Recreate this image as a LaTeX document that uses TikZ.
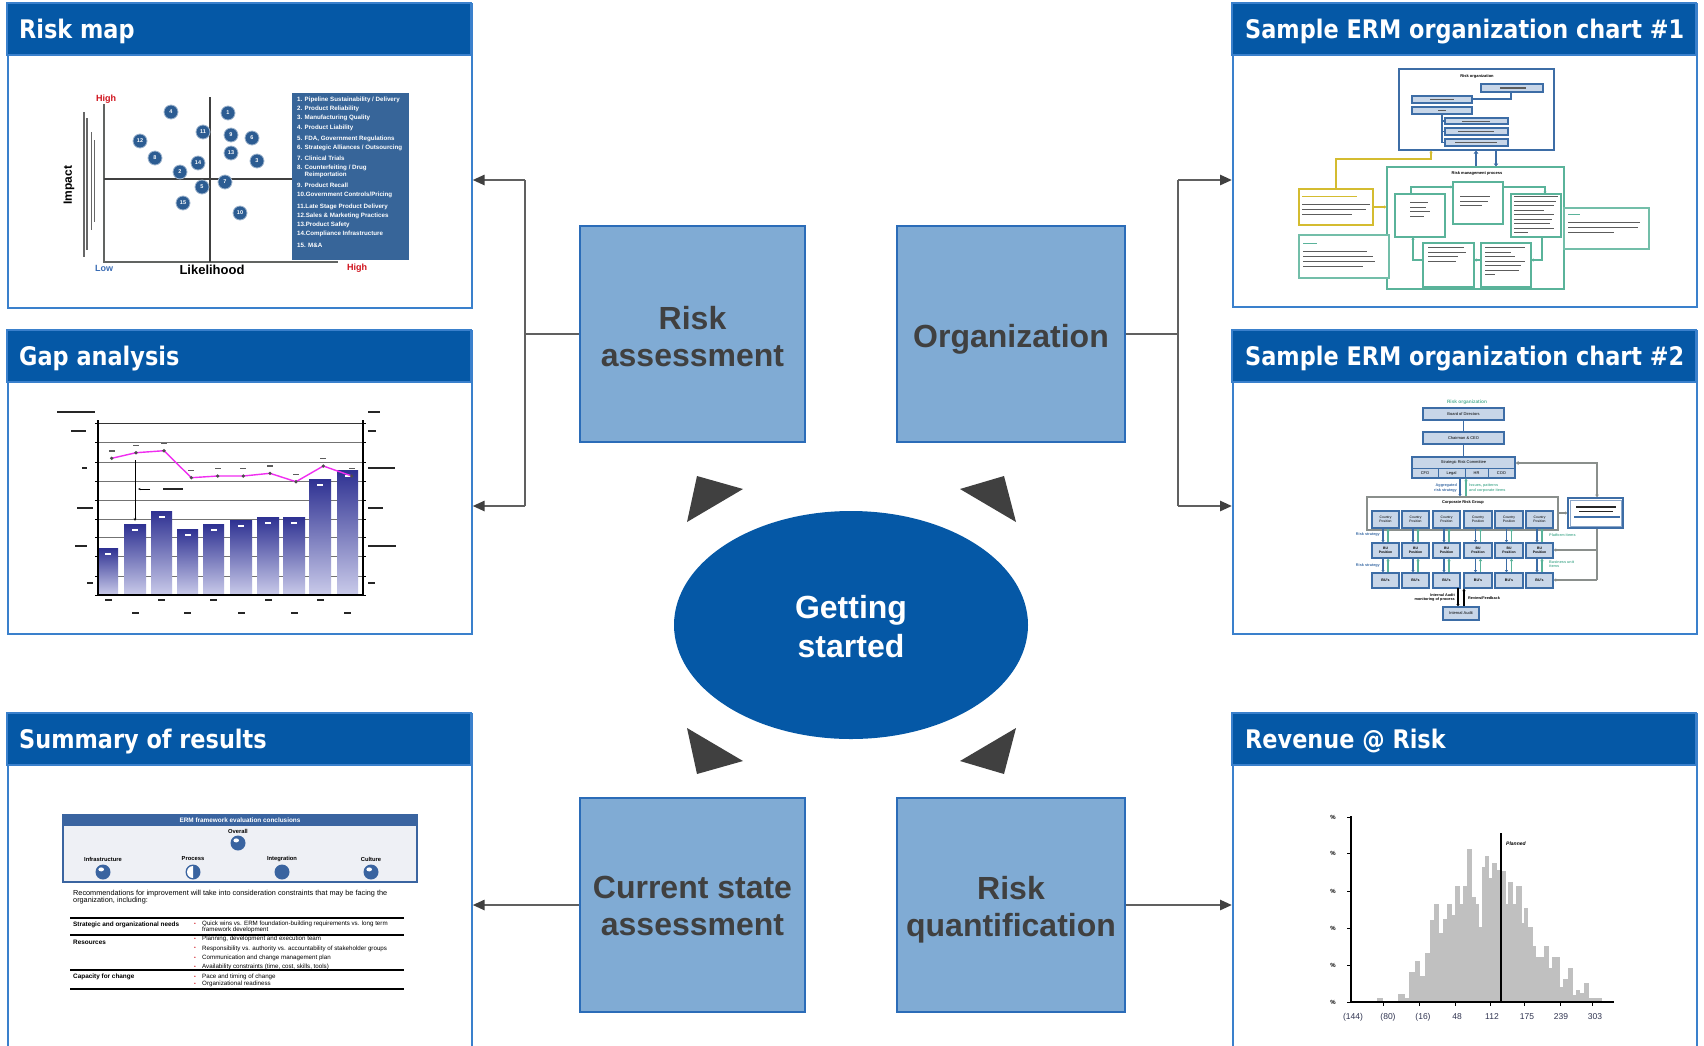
\documentclass[tikz,border=0pt]{standalone}
\usepackage{fontspec}
\setmainfont{Liberation Sans}
\newfontfamily\ttlfont[FakeStretch=0.875]{DejaVu Sans}
\usetikzlibrary{arrows.meta,shapes.geometric,calc}
\definecolor{hdrblue}{HTML}{0558A6}
\definecolor{pborder}{HTML}{3A80CC}
\definecolor{boxfill}{HTML}{80ABD4}
\definecolor{boxline}{HTML}{2B6CB8}
\definecolor{dgray}{HTML}{404040}
\definecolor{lgray}{HTML}{606060}
\definecolor{mapblue}{HTML}{376599}
\definecolor{dotblue}{HTML}{2C5C92}
\definecolor{navyb}{HTML}{2E3192}
\definecolor{lavb}{HTML}{CACBEA}
\definecolor{pinkl}{HTML}{F02EF0}
\definecolor{orgblue}{HTML}{3D6DA6}
\definecolor{orgfill}{HTML}{C8D6E8}
\definecolor{tealg}{HTML}{5AB39A}
\definecolor{yelg}{HTML}{D4BC30}
\definecolor{histg}{HTML}{C0C0C0}
\definecolor{hired}{HTML}{D0101A}
\definecolor{lowblue}{HTML}{3A6CB4}
\definecolor{sumblue}{HTML}{3A64A0}
\definecolor{sumbg}{HTML}{EEF0F5}
\definecolor{inkc}{HTML}{262626}
\definecolor{grayc}{HTML}{8A8F8C}
\definecolor{axlab}{HTML}{2F3350}
\newcommand\txb[4][inkc]{\fill[#1] (#2,#3) rectangle ++(#4,1.7);}
\newcommand\txl[3]{\fill[inkc!75] (#1,#2) rectangle ++(#3,1.3);}
\begin{document}
\begin{tikzpicture}[x=1pt,y=-1pt,
  panel/.style={draw=pborder, line width=1.6pt, fill=white, anchor=north west, inner sep=0pt, minimum width=464pt},
  ttl/.style={font=\ttlfont\bfseries\fontsize{25.6}{30}\selectfont, text=white, anchor=base west, inner sep=0pt},
  cbox/.style={draw=boxline, line width=1.4pt, fill=boxfill, inner sep=0pt},
  ctext/.style={align=center, text=dgray, font=\bfseries\fontsize{32}{37}\selectfont, inner sep=0pt},
  conn/.style={draw=lgray, line width=2.6pt},
  arr/.style={conn, -{Triangle[length=12pt,width=10pt,color=dgray]}},
  tri/.style={fill=dgray},
  rdot/.style={circle, fill=dotblue, draw=dotblue!45!white, line width=0.8pt, minimum size=14pt, inner sep=0pt, text=white, font=\bfseries\fontsize{5.5}{6}\selectfont},
  leg/.style={anchor=west, inner sep=0pt, text=white, font=\bfseries\fontsize{6.2}{7}\selectfont},
  tinyt/.style={inner sep=0pt, font=\fontsize{4}{4.6}\selectfont, align=center},
  tinyb/.style={inner sep=0pt, font=\bfseries\fontsize{4}{4.6}\selectfont, align=center},
  obox/.style={draw=orgblue, fill=orgfill, line width=1.1pt},
  tbox/.style={draw=tealg, fill=white, line width=1.2pt},
  oarr/.style={-{Triangle[length=2.5pt,width=3pt]}},
  stxt/.style={anchor=west, inner sep=0pt, font=\fontsize{6.2}{7}\selectfont},
  sbold/.style={anchor=west, inner sep=0pt, font=\bfseries\fontsize{6.4}{7}\selectfont}
]
\useasboundingbox (0,0) rectangle (1704,1045);
\fill[white] (0,0) rectangle (1704,1045);

% ---------- panels ----------
\node[panel, minimum height=304pt] (riskmap) at (7,3) {};
\node[panel, minimum height=303pt] (gap) at (7,330) {};
\node[panel, minimum height=340pt] (summary) at (7,713) {};
\node[panel, minimum height=303pt] (erm1) at (1232,3) {};
\node[panel, minimum height=303pt] (erm2) at (1232,330) {};
\node[panel, minimum height=340pt] (rev) at (1232,713) {};
\foreach \px/\py in {7/3, 7/330, 7/713, 1232/3, 1232/330, 1232/713}
  {\filldraw[fill=hdrblue, draw=pborder, line width=1.6pt] (\px,\py) rectangle ++(464,52);}
\node[ttl] (t1) at (19,38.5) {Risk map};
\node[ttl] (t2) at (19,365.5) {Gap analysis};
\node[ttl] (t3) at (19,748.5) {Summary of results};
\node[ttl] (t4) at (1245,38.5) {Sample ERM organization chart \#1};
\node[ttl] (t5) at (1245,365.5) {Sample ERM organization chart \#2};
\node[ttl] (t6) at (1245,748.5) {Revenue @ Risk};

% ---------- centre ----------
\node[cbox, minimum width=225pt, minimum height=216pt] (ra) at (692.5,334) {};
\node[ctext] (rat) at (692.5,336.2) {Risk\\assessment};
\node[cbox, minimum width=228pt, minimum height=216pt] (org) at (1011,334) {};
\node[ctext] (orgt) at (1011,339.3) {Organization};
\node[cbox, minimum width=225pt, minimum height=214pt] (cs) at (692.5,905) {};
\node[ctext] (cst) at (692.5,906) {Current state\\assessment};
\node[cbox, minimum width=228pt, minimum height=214pt] (rq) at (1011,905) {};
\node[ctext] (rqt) at (1011,909.3) {Risk\\quantification};
\node[ellipse, fill=hdrblue, minimum width=354pt, minimum height=228pt, inner sep=0pt] (gs) at (851,625) {};
\node[align=center, text=white, inner sep=0pt, font=\bfseries\fontsize{32}{39}\selectfont] (gst) at (851,627) {Getting\\started};
\fill[tri] (697,476) -- (743,489) -- (687,522) -- cycle;
\fill[tri] (1004,476) -- (960,489) -- (1016,522) -- cycle;
\fill[tri] (687,728) -- (743,761) -- (697,774) -- cycle;
\fill[tri] (1016,728) -- (960,761) -- (1004,774) -- cycle;

% ---------- connectors ----------
\coordinate (lj) at (525,334);
\coordinate (lt) at (525,180);
\coordinate (lb) at (525,506);
\coordinate (rj) at (1178,334);
\coordinate (rt) at (1178,180);
\coordinate (rb) at (1178,506);
\draw[conn] (ra.west) -- (lj);
\draw[conn] (lt) -- (lb);
\draw[arr] (lt) -- (riskmap.east |- lt);
\draw[arr] (lb) -- (gap.east |- lb);
\draw[conn] (org.east) -- (rj);
\draw[conn] (rt) -- (rb);
\draw[arr] (rt) -- (erm1.west |- rt);
\draw[arr] (rb) -- (erm2.west |- rb);
\draw[arr] (cs.west) -- (summary.east |- cs.west);
\draw[arr] (rq.east) -- (rev.west |- rq.east);

% ---------- risk map ----------
\draw[grayc!70!black, line width=1.2pt] (104,104) -- (104,262) -- (338,262);
\draw[black!75, line width=1.1pt] (210,97) -- (210,262);
\draw[black!75, line width=1.1pt] (104,179) -- (292,179);
\fill[mapblue] (292,93) rectangle (409,260);
\foreach \py/\t in {100/{1. Pipeline Sustainability / Delivery}, 109/{2. Product Reliability}, 118/{3. Manufacturing Quality}, 128/{4. Product Liability}, 139/{5. FDA, Government Regulations}, 148/{6. Strategic Alliances / Outsourcing}, 158/{7. Clinical Trials}, 168/{8. Counterfeiting / Drug}, 175/{\phantom{8. }Reimportation}, 185/{9. Product Recall}, 195/{10.Government Controls/Pricing}, 207/{11.Late Stage Product Delivery}, 216/{12.Sales \& Marketing Practices}, 225/{13.Product Safety}, 234/{14.Compliance Infrastructure}, 245/{15. M\&A}}
  {\node[leg] at (297,\py) {\t};}
\foreach \n/\px/\py in {4/171/112, 1/228/113, 11/203/132, 9/231/135, 6/252/138, 12/140/141, 13/231/153, 8/155/158, 14/198/163, 3/257/161, 2/180/172, 7/225/182, 5/202/187, 15/183/203, 10/240/213}
  {\node[rdot] (d\n) at (\px,\py) {\n};}
\node[inner sep=0pt, text=hired, font=\bfseries\fontsize{9}{10}\selectfont] (hi1) at (106,99) {High};
\node[inner sep=0pt, text=lowblue, font=\bfseries\fontsize{9}{10}\selectfont] (lo1) at (104,268) {Low};
\node[inner sep=0pt, font=\bfseries\fontsize{13}{14}\selectfont] (lik) at (212,270) {Likelihood};
\node[inner sep=0pt, text=hired, font=\bfseries\fontsize{9}{10}\selectfont] (hi2) at (357,268) {High};
\node[inner sep=0pt, rotate=90, font=\bfseries\fontsize{12}{13}\selectfont] (imp) at (69,185) {Impact};
\fill[inkc!70] (83,112) rectangle (84.5,257);
\fill[inkc!70] (86,118) rectangle (87.5,250);
\fill[inkc!70] (90.5,132) rectangle (92,230);
\fill[inkc!70] (93.5,140) rectangle (95,222);

% ---------- gap analysis ----------
\foreach \gy in {442.7,462.7,481.7,500,519.3,537.7,556.7,576}
  {\draw[black!55, line width=0.7pt] (98,\gy) -- (363,\gy);}
\draw[black!80, line width=1.1pt] (98,423.3) -- (363,423.3);
\foreach \a/\b/\t in {98/118/548, 124/146/524, 151/172/511, 177/198/529, 203/224/524, 230/252/520, 257/279/517, 283/305/517, 309/331/479, 337/358/470}
  {\shade[top color=navyb, bottom color=lavb] (\a,\t) rectangle (\b,595);
   \fill[white] ({(\a+\b)/2-3},{\t+5}) rectangle ++(6,2);}
\draw[black, line width=1.4pt] (98,420) -- (98,595) -- (363,595) -- (363,420);
\foreach \gy in {423.3,442.7,462.7,481.7,500,519.3,537.7,556.7,576,595}
  {\draw[black, line width=0.8pt] (95,\gy) -- (98,\gy);
   \draw[black, line width=0.8pt] (363,\gy) -- (366,\gy);}
\draw[pinkl, line width=1.4pt] (111.7,458.3) -- (136,452.7) -- (164,450.7) -- (191.3,477.7) -- (217.7,476) -- (243.3,476) -- (270,473.3) -- (296,481.7) -- (323.3,466) -- (351.7,476);
\foreach \px/\py in {111.7/458.3, 136/452.7, 164/450.7, 191.3/477.7, 217.7/476, 243.3/476, 270/473.3, 296/481.7, 323.3/466, 351.7/476}
  {\fill[black!70] (\px,\py) circle (1.8);
   \txl{\px-3}{\py-8}{6}}
\draw[black, line width=0.5pt, -{Stealth[length=3pt,width=2.5pt]}] (135,460) -- (135,521);
\draw[black, line width=0.5pt, -{Stealth[length=2.5pt,width=2pt]}] (150,489) -- (138,489);
\txb{163}{488}{20}
\txb{57}{411}{38}
\txb{368}{411}{12}
\foreach \px/\py/\w in {71/430/15, 82/467/5, 77/507/16, 75/545/12, 87/582/6, 368/430/8, 368/467/27, 368/507/15, 368/545/28, 368/582/7}
  {\txb{\px}{\py}{\w}}
\foreach \px in {108,161.5,213.5,268,320}
  {\txb{\px-3.5}{599}{7}}
\foreach \px in {135,187.5,241,294,347.5}
  {\txb{\px-3.5}{612}{7}}

% ---------- summary of results ----------
\fill[sumbg] (63,815) rectangle (417,882);
\fill[sumblue] (63,815) rectangle (417,826);
\draw[sumblue, line width=1.3pt] (63,815) rectangle (417,882);
\node[inner sep=0pt, text=white, font=\bfseries\fontsize{6.4}{7}\selectfont] (erh) at (240,820.5) {ERM framework evaluation conclusions};
\node[inner sep=0pt, font=\bfseries\fontsize{5.8}{6.5}\selectfont] (ovl) at (238,831) {Overall};
\foreach \px/\t in {103/Infrastructure, 193/Process, 282/Integration, 371/Culture}
  {\node[inner sep=0pt, font=\bfseries\fontsize{5.8}{6.5}\selectfont] at (\px,859) {\t};}
\foreach \px/\py in {238/843, 103/872, 371/872}
  {\fill[sumblue] (\px,\py) circle (7.5);
   \fill[white] (\px-1.8,\py-2.6) ellipse (2.8 and 2);}
\fill[sumblue] (282,872) circle (7.5);
\fill[sumblue] (193,872) circle (7.5);
\fill[white] (193,872) -- ++(0,-6) arc[start angle=270, end angle=90, radius=6] -- cycle;
\node[anchor=north west, inner sep=0pt, align=left, font=\fontsize{7.3}{7.9}\selectfont] (rec) at (73,889.5) {Recommendations for improvement will take into consideration constraints that may be facing the\\organization, including:};
\draw[black, line width=1.5pt] (70,918) -- (404,918);
\draw[black, line width=1.2pt] (70,935) -- (404,935);
\draw[black, line width=1.2pt] (70,970) -- (404,970);
\draw[black, line width=1.5pt] (70,989) -- (404,989);
\node[sbold] (r1) at (73,925) {Strategic and organizational needs};
\node[sbold] (r2) at (73,942) {Resources};
\node[sbold] (r3) at (73,977) {Capacity for change};
\foreach \py/\t in {924/{Quick wins vs. ERM foundation-building requirements vs. long term}, 939/{Planning, development and execution team}, 948.5/{Responsibility vs. authority vs. accountability of stakeholder groups}, 958/{Communication and change management plan}, 967/{Availability constraints (time, cost, skills, tools)}, 977/{Pace and timing of change}, 984/{Organizational readiness}}
  {\node[stxt] at (202,\py) {\t};
   \node[inner sep=0pt, text=hired, font=\fontsize{5}{5}\selectfont] at (195,\py) {\textbullet};}
\node[stxt] (r1b) at (202,930) {framework development};

% ---------- org chart 1 ----------
\draw[orgblue, line width=1.4pt] (1399,69) rectangle (1554,150);
\node[tinyb] (o1t) at (1477,76) {Risk organization};
\draw[orgblue, line width=1.1pt] (1511,92) -- (1511,99) -- (1472,99);
\draw[orgblue, line width=1.1pt] (1442,114) -- (1442,142.5) -- (1445,142.5);
\draw[orgblue, line width=1.1pt] (1442,121) -- (1445,121);
\draw[orgblue, line width=1.1pt] (1442,131.5) -- (1445,131.5);
\foreach \a/\b/\c/\d in {1481/84/1543/92, 1412/96/1472/103, 1412/107/1472/114, 1445/118/1508/124, 1445/128/1508/135, 1445/139/1508/146}
  {\draw[obox] (\a,\b) rectangle (\c,\d);}
\txl{1500}{87.4}{26}
\txl{1430}{98.9}{24}
\txl{1438}{110}{8}
\txl{1462}{120.5}{28}
\txl{1458}{130.9}{36}
\txl{1455}{141.9}{42}
\draw[orgblue, line width=2pt, -{Triangle[length=3pt,width=4.5pt]}] (1476,167) -- (1476,150.5);
\draw[orgblue, line width=2pt, -{Triangle[length=3pt,width=4.5pt]}] (1496,150) -- (1496,166.5);
\draw[tealg, line width=1.3pt] (1387,167) rectangle (1564,289);
\node[tinyb] (o1p) at (1477,173.5) {Risk management process};
\draw[tealg, line width=1.2pt, oarr] (1411,194) -- (1411,187) -- (1453,187);
\draw[tealg, line width=1.2pt, oarr] (1503,187) -- (1545,187) -- (1545,194);
\draw[tealg, line width=1.2pt, oarr] (1542,237) -- (1542,260) -- (1531,260);
\draw[tealg, line width=1.2pt, oarr] (1481,260) -- (1474,260);
\draw[tealg, line width=1.2pt, oarr] (1423,260) -- (1413,260) -- (1413,237);
\foreach \a/\b/\c/\d in {1395/194/1445/237, 1453/182/1503/224, 1511/194/1561/237, 1423/243/1474/287, 1481/243/1531/287}
  {\draw[tbox] (\a,\b) rectangle (\c,\d);}
\foreach \py/\w in {202/18, 206.5/16, 211/20, 215.5/14} {\txl{1410}{\py}{\w}}
\foreach \py/\w in {196/30, 200.5/28, 205/22} {\txl{1460}{\py}{\w}}
\foreach \py/\w in {196/44, 200.5/42, 205/40, 209.5/30, 214/40, 218.5/38, 223/36, 227.5/40, 232/14} {\txl{1514}{\py}{\w}}
\foreach \py/\w in {247/36, 251.5/38, 256/30, 260.5/28} {\txl{1428}{\py}{\w}}
\foreach \py/\w in {247/40, 251.5/26, 256/30, 260.5/40, 265/36, 269.5/34, 274/10} {\txl{1485}{\py}{\w}}
\draw[yelg, line width=1.3pt, oarr] (1336,189) -- (1336,159) -- (1431,159) -- (1431,150.5);
\draw[yelg, line width=1.3pt, oarr] (1373,207) -- (1386.5,207);
\draw[yelg, line width=1.3pt, fill=white] (1299,189) rectangle (1373,225);
\fill[yelg] (1302,196) rectangle ++(55,1.3);
\foreach \py/\w in {203.5/68, 208.5/64, 213.5/50} {\txl{1302}{\py}{\w}}
\draw[tealg!85, line width=1.4pt, fill=white] (1299,235) rectangle (1389,278);
\fill[tealg] (1303,243) rectangle ++(14,1.3);
\foreach \py/\w in {250.5/64, 255.5/70, 260.5/72, 265.5/60} {\txl{1303}{\py}{\w}}
\draw[tealg!85, line width=1.4pt, fill=white] (1564,208) rectangle (1649,249);
\fill[tealg] (1568,214) rectangle ++(12,1.3);
\foreach \py/\w in {221.5/72, 226.5/70, 231.5/46} {\txl{1568}{\py}{\w}}

% ---------- org chart 2 ----------
\node[inner sep=0pt, text=tealg, font=\bfseries\fontsize{4.8}{5.5}\selectfont] (o2t) at (1467,402) {Risk organization};
\draw[orgblue, line width=1.4pt] (1463.5,420) -- (1463.5,457);
\draw[obox] (1423,408) rectangle (1504,420);
\node[tinyt] (bod) at (1463.5,414) {Board of Directors};
\draw[obox] (1423,432) rectangle (1504,444);
\node[tinyt] (ceo) at (1463.5,438) {Chairman \& CEO};
\draw[obox] (1412,457) rectangle (1515,478);
\draw[orgblue, line width=1pt] (1412,468.5) -- (1515,468.5);
\foreach \px in {1438,1465,1488} {\draw[orgblue, line width=1pt] (\px,468.5) -- (\px,478);}
\node[tinyt] (src) at (1463.5,462.8) {Strategic Risk Committee};
\foreach \px/\t in {1425/CFO, 1451.5/Legal, 1476.5/HR, 1501.5/COO} {\node[tinyt] at (\px,473.4) {\t};}
\draw[grayc, line width=1.6pt, {Triangle[length=3pt,width=3.5pt]}-{Triangle[length=3pt,width=3.5pt]}] (1515.5,463) -- (1597,463) -- (1597,497.5);
\draw[orgblue, line width=1.2pt, oarr] (1460,478) -- (1460,496.5);
\draw[tealg, line width=1.2pt, oarr] (1466,497) -- (1466,478.5);
\node[anchor=east, align=right, inner sep=0pt, text=orgblue, font=\bfseries\fontsize{3.8}{4.4}\selectfont] (ags) at (1457,488) {Aggregated\\risk strategy};
\node[anchor=west, align=left, inner sep=0pt, text=tealg, font=\bfseries\fontsize{3.8}{4.4}\selectfont] (ipc) at (1469,488) {Issues, patterns\\and corporate items};
\draw[grayc, line width=1.3pt] (1367,497) rectangle (1558,530);
\node[tinyb] (crg) at (1463,502.5) {Corporate Risk Group};
\draw[grayc, line width=1.6pt, oarr] (1558,513) -- (1567.5,513);
\foreach \a/\b in {1372/1399, 1402/1429, 1433/1460, 1464/1492, 1495/1523, 1526/1553}
  {\pgfmathsetmacro\cc{(\a+\b)/2}
   \draw[orgblue, line width=1.1pt, oarr] (\cc-2.5,528) -- (\cc-2.5,542.5);
   \draw[tealg, line width=1.1pt, oarr] (\cc+2.5,543) -- (\cc+2.5,528.5);
   \draw[orgblue, line width=1.1pt, oarr] (\cc-2.5,558) -- (\cc-2.5,572.5);
   \draw[tealg, line width=1.1pt, oarr] (\cc+2.5,573) -- (\cc+2.5,558.5);
   \draw[obox] (\a,511) rectangle (\b,528);
   \node[tinyt, font=\fontsize{3.4}{4}\selectfont] at (\cc,519.5) {Country\\Position};
   \draw[obox] (\a,543) rectangle (\b,558);
   \node[tinyt, font=\bfseries\fontsize{3.4}{4}\selectfont] at (\cc,550.5) {BU\\Position};
   \draw[obox] (\a,573) rectangle (\b,588);
   \node[tinyt, font=\bfseries\fontsize{3.6}{4}\selectfont] at (\cc,580.5) {BU's};}
\node[anchor=east, inner sep=0pt, text=orgblue, font=\bfseries\fontsize{3.8}{4.4}\selectfont] (rs1) at (1380,535) {Risk strategy};
\node[anchor=east, inner sep=0pt, text=orgblue, font=\bfseries\fontsize{3.8}{4.4}\selectfont] (rs2) at (1380,566) {Risk strategy};
\node[anchor=west, inner sep=0pt, text=tealg, font=\bfseries\fontsize{3.8}{4.4}\selectfont] (pli) at (1549,535) {Platform items};
\node[anchor=west, align=left, inner sep=0pt, text=tealg, font=\bfseries\fontsize{3.8}{4.4}\selectfont] (bui) at (1549,564) {Business unit\\items};
\draw[grayc, line width=1.6pt] (1597,528) -- (1597,580);
\draw[grayc, line width=1.6pt, oarr] (1597,550) -- (1553.5,550);
\draw[grayc, line width=1.6pt, oarr] (1597,580) -- (1553.5,580);
\draw[orgblue, line width=1.3pt, fill=white] (1568,498) rectangle (1623,528);
\draw[orgblue!60, line width=0.5pt] (1570,500) rectangle (1621,526);
\txb{1576}{506}{40}
\txb{1579}{510.5}{34}
\txb[orgblue]{1574}{516}{46}
\draw[black, line width=1.5pt, oarr] (1458,588) -- (1458,606.5);
\draw[black, line width=1.5pt, oarr] (1464,607) -- (1464,588.5);
\draw[obox] (1443,607) rectangle (1479,620);
\node[tinyt] (iab) at (1461,613.5) {Internal Audit};
\node[anchor=east, align=right, inner sep=0pt, font=\bfseries\fontsize{3.8}{4.4}\selectfont] (iam) at (1455,597.5) {Internal Audit\\monitoring of process};
\node[anchor=west, inner sep=0pt, font=\bfseries\fontsize{3.8}{4.4}\selectfont] (rvf) at (1468,598) {Review/Feedback};

% ---------- revenue @ risk ----------
\foreach \a/\b/\c in {470/490/893, 535/555/882, 555/568/893, 568/585/815, 585/600/782, 600/615/828, 615/630/760, 630/642/660, 642/657/613, 657/668/700, 668/682/657, 682/697/613, 697/705/645, 705/720/557, 720/730/613, 730/742/557, 742/757/447, 757/767/592, 767/778/613, 778/787/680, 787/795/500, 795/807/468, 807/815/535, 815/830/490, 830/843/510, 843/857/513, 857/865/613, 865/880/547, 880/888/613, 888/905/557, 905/912/668, 912/925/625, 925/938/680, 938/948/738, 948/960/770, 960/972/770, 972/988/738, 988/997/803, 997/1020/770, 1020/1030/860, 1030/1045/838, 1045/1058/803, 1058/1068/885, 1068/1080/870, 1080/1093/880, 1093/1108/848, 1108/1145/893}
  {\fill[histg] ({1220+\a/3},1002) rectangle ({1220+\b/3},{700+\c/3});}
\draw[black, line width=2.3pt] (1501,833) -- (1501,1002);
\node[anchor=west, inner sep=0pt, font=\itshape\bfseries\fontsize{5}{6}\selectfont] (pln) at (1506,844) {Planned};
\draw[black, line width=1.4pt] (1351,816) -- (1351,1002) -- (1614,1002);
\foreach \yy in {817,853,891,928,965,1002}
  {\draw[black, line width=1pt] (1347,\yy) -- (1351,\yy);
   \node[anchor=east, inner sep=0pt, font=\bfseries\fontsize{6}{7}\selectfont] at (1336,\yy) {\%};}
\foreach \xx in {1383.3,1419.3,1455,1490.7,1524,1560,1592.7}
  {\draw[black, line width=1pt] (\xx,1002) -- (\xx,1006);}
\foreach \xx/\lab in {1353/{(144)}, 1388/{(80)}, 1423/{(16)}, 1457/{48}, 1492/{112}, 1527/{175}, 1561/{239}, 1595/{303}}
  {\node[inner sep=0pt, text=axlab, font=\fontsize{8.5}{9}\selectfont] at (\xx,1017) {\lab};}
\end{tikzpicture}
\end{document}
